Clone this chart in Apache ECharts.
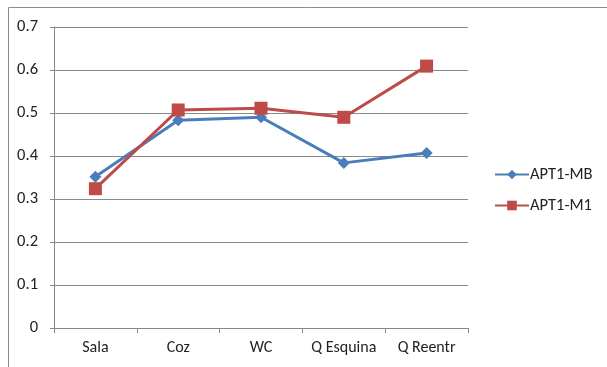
<!DOCTYPE html>
<html><head><meta charset="utf-8">
<script src="https://cdn.jsdelivr.net/npm/echarts@6/dist/echarts.min.js"></script>
<style>html,body{margin:0;padding:0;background:#fff}#c{width:607px;height:367px}</style>
</head><body><div id="c"></div>
<script>
const categories = ['Sala', 'Coz', 'WC', 'Q Esquina', 'Q Reentr'];
const seriesMB = [0.352, 0.483, 0.490, 0.384, 0.407];
const seriesM1 = [0.324, 0.507, 0.511, 0.490, 0.609];
const yTicks = [0, 0.1, 0.2, 0.3, 0.4, 0.5, 0.6, 0.7];

const font = "Carlito, 'Liberation Sans Narrow', 'Liberation Sans', sans-serif";
const chart = echarts.init(document.getElementById('c'), null, {renderer: 'canvas'});
chart.setOption({
  animation: false,
  backgroundColor: '#fff',
  graphic: [{type: 'rect', shape: {x: 8.5, y: 7.5, width: 700, height: 500}, style: {fill: 'none', stroke: '#8c8c8c', lineWidth: 1}, silent: true}],
  grid: {left: 54, right: 139, top: 27, bottom: 39},
  legend: {
    orient: 'vertical', left: 489, top: 161, itemGap: 14, itemWidth: 34, itemHeight: 12,
    textStyle: {fontFamily: font, fontSize: 16.5, color: '#222', padding: [0,0,0,-4]},
    data: ['APT1-MB', 'APT1-M1']
  },
  xAxis: {
    type: 'category', data: categories, boundaryGap: true,
    axisLine: {lineStyle: {color: '#888', width: 1}},
    axisTick: {show: true, interval: 0, length: 5, lineStyle: {color: '#888'}},
    axisLabel: {fontFamily: font, fontSize: 16, color: '#222', margin: 12, interval: 0}
  },
  yAxis: {
    type: 'value', min: 0, max: 0.7, interval: 0.1,
    axisLine: {show: true, lineStyle: {color: '#888'}},
    axisTick: {show: true, length: 4, lineStyle: {color: '#888'}},
    splitLine: {lineStyle: {color: '#8a8a8a', width: 1}},
    axisLabel: {fontFamily: font, fontSize: 16.5, color: '#222', margin: 16,
      formatter: v => { const t = yTicks.find(x => Math.abs(x - v) < 1e-9); return t === undefined ? '' : String(t); }}
  },
  series: [
    {name: 'APT1-MB', type: 'line', data: seriesMB, symbol: 'diamond', symbolSize: 12,
     lineStyle: {color: '#4A7EBB', width: 3}, itemStyle: {color: '#4A7EBB'}},
    {name: 'APT1-M1', type: 'line', data: seriesM1, symbol: 'rect', symbolSize: 13,
     lineStyle: {color: '#BE4B48', width: 3}, itemStyle: {color: '#BE4B48'}}
  ]
});
</script></body></html>
